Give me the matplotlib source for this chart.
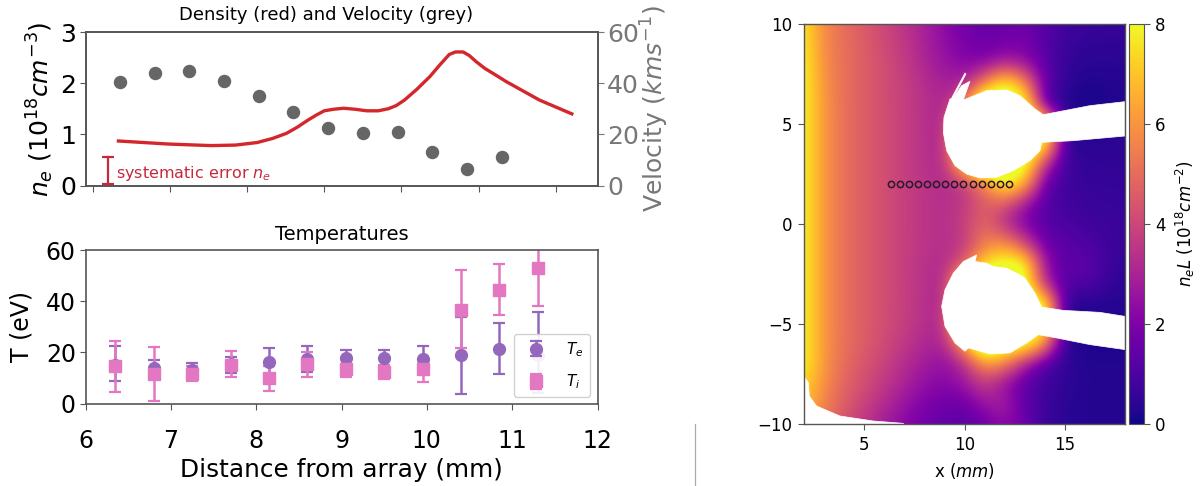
import numpy as np
import matplotlib
matplotlib.use("Agg")
import matplotlib.pyplot as plt
from matplotlib.patches import Polygon
from matplotlib.lines import Line2D

W, H = 1201, 486

probe_x = [6.35, 6.8, 7.25, 7.7, 8.15, 8.6, 9.05, 9.5, 9.95, 10.4, 10.85, 11.3]
velocity = [40.3, 43.8, 44.6, 40.8, 35, 28.9, 22.6, 20.4, 21, 13.2, 6.3, 11.2]
density_x = [6.33, 6.98, 7.53, 7.85, 8.13, 8.33, 8.51, 8.65, 8.79, 8.9, 9.0, 9.12, 9.25, 9.4, 9.55,
             9.7, 9.83, 9.93, 10.04, 10.2, 10.37, 10.5, 10.62, 10.7, 10.8, 10.88, 10.97, 11.08, 11.2,
             11.36, 11.79, 12.21]
density = [.87, .81, .78, .79, .84, .92, 1.02, 1.14, 1.28, 1.38, 1.46, 1.49, 1.51, 1.49, 1.46,
           1.46, 1.5, 1.56, 1.67, 1.88, 2.13, 2.36, 2.56, 2.61, 2.61, 2.54, 2.42, 2.29, 2.18,
           2.03, 1.67, 1.4]
sys_err_x = 6.2
sys_err_range = [0.03, 0.56]

te = [15.1, 14, 13, 15.6, 16.3, 17.3, 17.8, 17.7, 17.4, 18.8, 21.4, 18.8]
te_up = [22.5, 17, 16, 18, 21.5, 22.5, 21, 21, 22.5, 33.9, 31.4, 35.7]
te_lo = [8.6, 11.3, 10, 12, 11, 12.4, 14.7, 14.6, 12.4, 3.8, 11.5, 4]
ti = [14.5, 11.5, 11.5, 15.2, 9.8, 15.4, 13.3, 12.4, 13.3, 36.7, 44.3, 53.1]
ti_up = [24.6, 22, 14.7, 20.5, 14.7, 20.2, 15.4, 15, 15.4, 52, 54.4, 68]
ti_lo = [4.6, 0.9, 8.9, 10.4, 4.9, 10.4, 10.4, 9.5, 8.5, 21.7, 34.5, 38.3]

# Line-integrated density: rows y = 10 ... -10, columns x = 2 ... 18
density_map = [
 [7.8,5.7,5.0,4.5,4.0,3.5,2.9,2.3,1.8,1.5,1.5,1.7,1.2,0.8,0.7,0.6,0.6],
 [7.8,5.7,5.1,4.6,4.1,3.6,3.0,2.4,1.9,1.6,1.8,1.9,1.2,0.7,0.5,0.5,0.5],
 [8.0,5.8,5.1,4.6,4.2,3.7,3.1,2.6,2.2,2.2,3.0,2.6,1.3,0.6,0.4,0.4,0.4],
 [8.0,5.9,5.1,4.6,4.2,3.8,3.3,2.9,3.0,5.5,8.5,6.0,1.5,0.5,0.2,0.3,0.3],
 [8.0,6.0,5.1,4.6,4.2,3.8,3.4,3.0,5.0,11.0,9.0,9.0,1.0,0.3,0.1,0.2,0.3],
 [8.0,6.0,5.1,4.6,4.2,3.8,3.4,3.0,9.0,11.0,9.0,9.0,9.0,0.3,0.3,0.3,0.3],
 [8.0,6.0,5.1,4.6,4.2,3.8,3.4,3.0,10.0,11.0,9.0,9.0,9.0,0.4,0.4,0.4,0.5],
 [8.0,6.0,5.1,4.6,4.2,3.8,3.4,3.1,8.0,11.0,9.0,9.0,3.5,0.8,0.5,0.5,0.5],
 [8.0,6.0,5.1,4.6,4.2,3.8,3.5,3.2,3.7,5.5,8.5,7.0,1.5,0.8,0.6,0.6,0.6],
 [8.0,6.0,5.1,4.6,4.2,3.8,3.5,3.3,3.6,4.6,4.6,2.6,1.2,0.8,0.7,0.6,0.6],
 [8.0,6.0,5.1,4.6,4.2,3.8,3.5,3.3,3.8,5.0,3.2,2.0,1.2,1.0,0.8,0.7,0.7],
 [8.0,6.0,5.1,4.6,4.2,3.8,3.5,3.3,3.6,5.5,6.0,4.0,1.6,1.3,1.1,0.8,0.6],
 [8.0,6.0,5.1,4.6,4.2,3.8,3.4,3.2,4.5,7.5,8.5,8.5,2.5,1.2,1.5,0.8,0.5],
 [8.0,6.0,5.1,4.6,4.2,3.8,3.4,3.0,9.0,11.0,9.0,9.0,3.0,1.2,1.2,0.7,0.4],
 [8.0,6.0,5.1,4.6,4.2,3.8,3.4,3.0,10.0,11.0,9.0,9.0,9.0,0.3,0.3,0.3,0.3],
 [8.0,6.0,5.1,4.6,4.2,3.8,3.3,3.2,10.0,11.0,9.0,9.0,9.0,0.3,0.3,0.3,0.3],
 [8.0,6.0,5.1,4.6,4.1,3.6,3.1,3.0,6.5,11.0,9.0,9.0,6.0,0.3,0.2,0.2,0.2],
 [8.0,6.0,5.0,4.4,3.9,3.3,2.8,2.4,3.2,6.0,5.5,2.8,1.0,0.5,0.3,0.3,0.3],
 [7.5,5.8,4.8,4.2,3.6,3.0,2.4,2.2,2.6,3.8,2.4,1.4,0.8,0.5,0.3,0.3,0.3],
 [7.0,5.6,4.6,3.9,3.2,2.6,2.0,1.7,1.6,2.6,3.0,1.4,0.7,0.4,0.3,0.3,0.3],
 [6.0,5.2,4.2,3.5,2.8,2.2,1.7,1.4,1.3,1.6,2.4,1.6,0.7,0.4,0.3,0.3,0.3],
]
map_x = list(range(2, 19))
map_y = list(range(10, -11, -1))

upper_disc_zoom = [(1005,273),(900,285),(760,312),(735,295),(690,255),(650,238),(590,240),(545,258),
    (520,268),(540,212),(515,225),(490,262),(480,265),(462,320),(460,365),(470,420),(495,465),(530,490),
    (570,502),(620,500),(670,480),(720,450),(750,420),(755,395),(850,390),(1005,376)]
upper_sliver_zoom = [(525,187),(485,262),(490,262),(528,190)]
lower_disc_zoom = [(1005,290),(930,278),(820,272),(755,262),(735,220),(705,175),(690,165),(650,145),
    (610,140),(590,130),(555,125),(560,105),(520,125),(490,160),(465,210),(455,260),(465,320),
    (495,370),(525,395),(535,385),(600,403),(660,400),(710,370),(745,345),(800,355),(900,375),(1005,390)]
corner_zoom = [(42,470),(55,490),(58,530),(80,560),(150,590),(250,605),(340,612),(342,616),(42,616)]

def axbox(l, t, r, b):
    return [l / W, 1 - b / H, (r - l) / W, (b - t) / H]

fig = plt.figure(figsize=(W / 100, H / 100), dpi=100)
SP = '#555555'
RED = '#d3272b'

# top panel
ax1 = fig.add_axes(axbox(85.5, 32, 597.5, 185.5))
ax1.plot(density_x, density, color=RED, lw=2.4, zorder=3, solid_joinstyle='round')
ax1.set_xlim(5.903, 12.543)
ax1.set_ylim(0, 3)
ax1.set_yticks([0, 1, 2, 3])
ax1.set_xticks([6, 7, 8, 9, 10, 11, 12])
ax1.set_xticklabels([])
ax1.tick_params(axis='y', labelsize=18, length=4, color=SP, pad=3)
ax1.tick_params(axis='x', length=4, color=SP)
ax1.set_ylabel(r'$n_e\ (10^{18}cm^{-3})$', fontsize=18, labelpad=3)
ax1.text(0.469, 1.05, 'Density (red) and Velocity (grey)', fontsize=13, ha='center', va='bottom',
         transform=ax1.transAxes)
ax1.plot([sys_err_x, sys_err_x], sys_err_range, color='#c8283c', lw=1.6,
         marker='_', ms=8, mew=1.6)
ax1.text(6.3, 0.05, r'systematic error $n_e$', color='#c8283c', fontsize=11.5, va='bottom')
ax1b = ax1.twinx()
ax1b.scatter(probe_x, velocity, s=75, color='#666666', zorder=4)
ax1b.set_ylim(0, 60)
ax1b.set_yticks([0, 20, 40, 60])
ax1b.tick_params(axis='y', labelsize=18, length=4, colors='#777777', pad=3)
ax1b.set_ylabel(r'Velocity $(kms^{-1})$', fontsize=18, color='#777777', labelpad=0)
for a in (ax1, ax1b):
    for s in a.spines.values():
        s.set_color(SP)
        s.set_linewidth(1.2)

# bottom panel
ax2 = fig.add_axes(axbox(85.5, 250, 597.5, 403.5))
px = np.array(probe_x)
te_a, ti_a = np.array(te), np.array(ti)
ax2.errorbar(px, te_a, yerr=[te_a - np.array(te_lo), np.array(te_up) - te_a], fmt='o',
             color='#9467bd', ms=8.5, lw=1.8, capsize=4.5, capthick=1.6, label=r'$T_e$')
ax2.errorbar(px, ti_a, yerr=[ti_a - np.array(ti_lo), np.array(ti_up) - ti_a], fmt='s',
             color='#e377c2', ms=8.5, lw=1.8, capsize=4.5, capthick=1.6, label=r'$T_i$')
ax2.set_xlim(6, 12)
ax2.set_ylim(0, 60)
ax2.set_xticks([6, 7, 8, 9, 10, 11, 12])
ax2.set_yticks([0, 20, 40, 60])
ax2.tick_params(labelsize=17, length=4, color=SP, pad=3)
ax2.tick_params(axis='x', pad=14)
ax2.set_xlabel('Distance from array (mm)', fontsize=17.8, labelpad=4)
ax2.set_ylabel('T (eV)', fontsize=17, labelpad=9)
ax2.set_title('Temperatures', fontsize=14, pad=7)
leg = ax2.legend(loc='lower right', bbox_to_anchor=(0.985, 0.04), borderaxespad=0, fontsize=11,
                 labelspacing=0.9, handletextpad=1.0, framealpha=0.9)
leg.set_zorder(10)
for s in ax2.spines.values():
    s.set_color(SP)
    s.set_linewidth(1.2)

# map panel
ax3 = fig.add_axes(axbox(804, 24, 1125, 424))
ext = (map_x[0] - .5, map_x[-1] + .5, map_y[-1] - .5, map_y[0] + .5)
im = ax3.imshow(np.array(density_map), cmap='plasma', vmin=0, vmax=8, extent=ext,
                interpolation='bicubic', aspect='auto', origin='upper')

def up(p):
    return [(2 + (x - 42) / 60.2, 10 - (y - 40) / 60.0) for x, y in p]

def lo(p):
    return [(2 + (x - 42) / 60.2, -(y - 12) / 60.2) for x, y in p]

for poly in (up(upper_disc_zoom), up(upper_sliver_zoom), lo(lower_disc_zoom), lo(corner_zoom)):
    ax3.add_patch(Polygon(poly, closed=True, fc='white', ec='white', lw=0.5, zorder=2))
ax3.plot(np.array(probe_x + [11.75, 12.2]), [2.0] * 14, 'o', mfc='none', mec='#2a1a2a',
         ms=4.5, mew=1.1, zorder=4)
ax3.set_xlim(2, 18)
ax3.set_ylim(-10, 10)
ax3.set_xticks([5, 10, 15])
ax3.set_yticks([-10, -5, 0, 5, 10])
ax3.set_yticklabels(['\u221210', '\u22125', '0', '5', '10'])
ax3.tick_params(labelsize=12, length=4.5, color=SP, pad=4)
ax3.set_xlabel(r'x $(mm)$', fontsize=12, labelpad=5)
for s in ax3.spines.values():
    s.set_color(SP)
    s.set_linewidth(1.0)

cax = fig.add_axes(axbox(1129, 24, 1144, 424))
cb = fig.colorbar(im, cax=cax, ticks=[0, 2, 4, 6, 8])
cb.ax.tick_params(labelsize=12, length=4, color=SP, pad=4)
cb.set_label(r'$n_eL\ (10^{18}cm^{-2})$', fontsize=12, labelpad=6)
cb.outline.set_edgecolor(SP)

fig.add_artist(Line2D([695 / W, 695 / W], [1 - 424 / H, 0], color='#aaaaaa', lw=0.9))
fig.savefig('out.png', dpi=100)
